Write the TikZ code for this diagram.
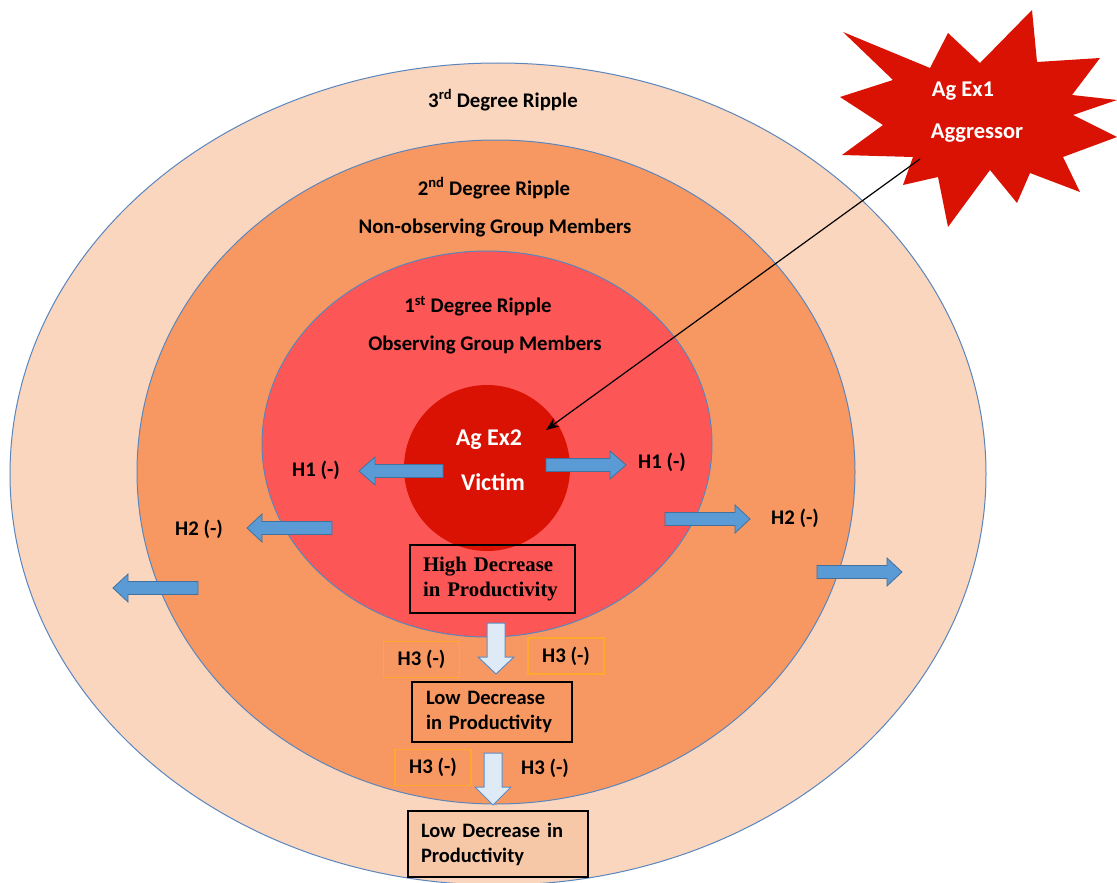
\documentclass[tikz,border=0pt]{standalone}
\usepackage{fontspec}
\setmainfont{Carlito}
\newfontfamily\tnr{Liberation Serif}
\usetikzlibrary{arrows.meta}
\definecolor{peach}{HTML}{FBD6BE}
\definecolor{orangeR}{HTML}{F79862}
\definecolor{redR}{HTML}{FD5656}
\definecolor{victimred}{HTML}{DA1203}
\definecolor{rippleline}{HTML}{5A86BE}
\definecolor{blockblue}{HTML}{5B9BD5}
\definecolor{blockedge}{HTML}{41719C}
\definecolor{downblue}{HTML}{DEEBF7}
\definecolor{downedge}{HTML}{5B8DC8}
\definecolor{hthree}{HTML}{FFA830}
\definecolor{lowbox}{HTML}{F7C8A8}
\newcommand{\hblock}[4]{\draw[blk] (#1,{#4-6.5}) -- (#2,{#4-6.5}) -- (#2,{#4-14}) -- (#3,#4) -- (#2,{#4+14}) -- (#2,{#4+6.5}) -- (#1,{#4+6.5}) -- cycle;}
\newcommand{\vblock}[4]{\draw[dblk] ({#1-9},#2) -- ({#1+9},#2) -- ({#1+9},#3) -- ({#1+18},#3) -- (#1,#4) -- ({#1-18},#3) -- ({#1-9},#3) -- cycle;}
\begin{document}
\begin{tikzpicture}[x=1pt,y=-1pt,
  ripple/.style={draw=rippleline, line width=1pt},
  lbl/.style={font=\fontsize{20.8}{24}\selectfont\bfseries, text=black, inner sep=0pt},
  wlbl/.style={font=\fontsize{24}{28}\selectfont\bfseries, text=white, inner sep=0pt},
  slbl/.style={font=\fontsize{22.5}{26}\selectfont\bfseries, text=white, inner sep=0pt},
  blk/.style={fill=blockblue, draw=blockedge, line width=0.8pt},
  dblk/.style={fill=downblue, draw=downedge, line width=1pt},
  hbox/.style={draw=hthree, line width=1.2pt, minimum width=76pt, minimum height=36pt, inner sep=0pt, font=\fontsize{20.8}{24}\selectfont\bfseries},
  outbox/.style={draw=black, line width=1.3pt, align=left, inner ysep=0pt, font=\fontsize{20.5}{25}\selectfont\bfseries},
  conn/.style={draw=black, line width=1.2pt, -{Stealth[length=13pt,width=10pt]}}
]
\useasboundingbox (0,0) rectangle (1117,883);
\fill[white] (0,0) rectangle (1117,883);

% ripples
\draw[ripple, fill=peach] (498,474) ellipse [x radius=488pt, y radius=411pt];
\draw[ripple, fill=orangeR] (496,472) ellipse [x radius=359pt, y radius=332pt];
\draw[ripple, fill=redR] (487,444) ellipse [x radius=225pt, y radius=193pt];
\node[circle, fill=victimred, minimum size=166pt, inner sep=0pt] (victim) at (487,468) {};

% ripple labels
\node[lbl] (l3) at (503,100) {3\textsuperscript{rd} Degree Ripple};
\node[lbl] (l2a) at (494,188) {2\textsuperscript{nd} Degree Ripple};
\node[lbl] (l2b) at (495,228) {Non-observing Group Members};
\node[lbl] (l1a) at (478,306) {1\textsuperscript{st} Degree Ripple};
\node[lbl] (l1b) at (485,345) {Observing Group Members};
\node[wlbl] (vA) at (489,440) {Ag Ex2};
\node[wlbl] (vB) at (493,482) {Victim};

% horizontal block arrows
\hblock{443}{375}{359}{471}
\hblock{546}{610}{626}{465}
\hblock{332}{262}{247}{528}
\hblock{198}{128}{113}{588}
\hblock{665}{735}{750}{519}
\hblock{817}{887}{902}{572}
\node[lbl] (h1l) at (316,470) {H1 (-)};
\node[lbl] (h1r) at (662,462) {H1 (-)};
\node[lbl] (h2l) at (199,529) {H2 (-)};
\node[lbl] (h2r) at (795,518) {H2 (-)};

% productivity boxes
\node[outbox, font=\tnr\fontsize{20.8}{25}\selectfont\bfseries, text width=139pt, inner xsep=13pt, minimum height=68pt] (high) at (492.5,579) {High Decrease\\in Productivity};
\node[outbox, text width=132pt, inner xsep=14pt, minimum height=60pt] (low1) at (492,712) {Low Decrease\\in Productivity};
\node[outbox, fill=lowbox, text width=154pt, inner xsep=13pt, minimum height=66pt] (low2) at (498,844) {Low Decrease in\\Productivity};

% down arrows
\vblock{496}{623}{657}{674}
\vblock{493}{753}{787}{805}

% H3 labels
\node[hbox] (h3a) at (421.5,659.5) {H3 (-)};
\node[hbox] (h3b) at (566,656) {H3 (-)};
\node[hbox] (h3c) at (433,767.5) {H3 (-)};
\node[lbl] (h3d) at (545,768) {H3 (-)};

% aggressor star
\fill[victimred] (843,32) -- (930,68) -- (948,33) -- (980,63) -- (1032,10) -- (1037,62)
  -- (1100,58) -- (1072,95) -- (1117,100) -- (1073,115) -- (1117,137) -- (1063,157)
  -- (1080,192) -- (1030,173) -- (1017,203) -- (990,170) -- (948,227) -- (938,177)
  -- (903,185) -- (913,157) -- (842,155) -- (883,125) -- (840,97) -- (893,80) -- cycle;
\node[slbl] (sA) at (963,91) {Ag Ex1};
\node[slbl] (sB) at (977,133) {Aggressor};

% connector
\coordinate (aggr) at (920,159);
\coordinate (hit) at (546,430);
\draw[conn] (aggr) -- (hit);
\end{tikzpicture}
\end{document}
